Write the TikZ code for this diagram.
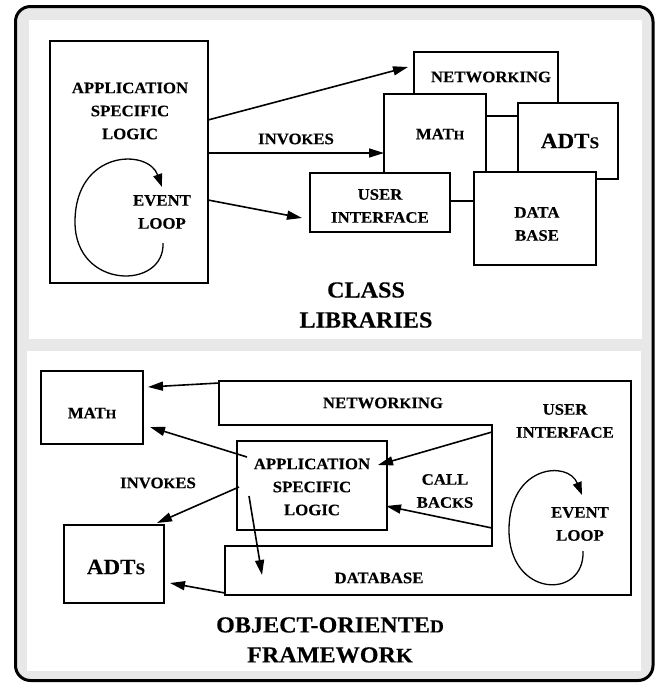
\documentclass[tikz,border=0pt]{standalone}
\usepackage{fontspec}
\setmainfont{Liberation Serif}[BoldFeatures={FakeStretch=1.05,FakeBold=0.2}]
\usetikzlibrary{arrows.meta}
\definecolor{panelgray}{HTML}{E8E8E8}
\newcommand\lil[2][0.8]{\scalebox{#1}{#2}}
\begin{document}
\begin{tikzpicture}[x=1pt,y=-1pt,
  box/.style={draw, fill=white, line width=1.3pt, inner sep=0pt, outer sep=0pt, rectangle},
  lbl/.style={font=\fontsize{16}{23}\selectfont\bfseries, align=center, inner sep=0pt},
  big/.style={font=\fontsize{23}{30}\selectfont\bfseries, align=center, inner sep=0pt},
  adt/.style={font=\fontsize{22}{26}\selectfont\bfseries, inner sep=0pt},
  arr/.style={line width=1.6pt, -{Triangle[length=15pt,width=9pt]}},
  looparr/.style={line width=1.3pt, -{Triangle[length=13pt,width=9pt]}},
]
\useasboundingbox (0,0) rectangle (659,683);
% frame and panels
\draw[line width=3pt, rounded corners=15pt, fill=panelgray] (15.5,6.5) rectangle (653,680.5);
\fill[white] (29,20) rectangle (642,339);
\fill[white] (27,351) rectangle (641,671);

% ---------------- top: class libraries ----------------
\node[box, minimum width=158pt, minimum height=242pt] (app) at (129,162) {};
\node[box, minimum width=144pt, minimum height=64pt] (net) at (486,84) {};
\node[box, minimum width=102pt, minimum height=107pt] (math) at (435,147.5) {};
\node[box, minimum width=100pt, minimum height=76pt] (adts) at (568,141) {};
\node[box, minimum width=140pt, minimum height=59pt] (ui) at (380,202.5) {};
\node[box, minimum width=122pt, minimum height=93pt] (db) at (535,218.5) {};

\node[lbl] (apptxt) at (130,111) {APPLICATION\\SPECIFIC\\LOGIC};
\node[lbl] (evtxt) at (162,212) {EVENT\\LOOP};
\node[lbl] (invtxt) at (296,139) {INVO\lil[0.9]{K}ES};
\node[lbl] (nettxt) at (491,77) {NETWOR\lil[0.9]{K}ING};
\node[lbl] (mathtxt) at (440,134) {MAT\lil{H}};
\node[adt] (adtstxt) at (570,141) {ADT\lil[0.75]{S}};
\node[lbl] (uitxt) at (380,206) {USER\\INTERFACE};
\node[lbl] (dbtxt) at (537,224) {DATA\\BASE};
\node[big] (cltxt) at (366,305) {CLASS\\LIBRARIES};

\draw[arr] ([yshift=-79pt]app.north east) -- ([xshift=-6pt,yshift=-15pt]net.north west);
\draw[arr] ([yshift=-112pt]app.north east) -- ([yshift=-59pt]math.north west);
\draw[arr] ([yshift=-159pt]app.north east) -- ([xshift=-8pt,yshift=-45pt]ui.north west);

\coordinate (l1s) at (163,243);
\coordinate (l1e) at (162,187);
\draw[looparr] (l1s) .. controls (165,290) and (75,290) .. (75,222)
  .. controls (75,150) and (148,148) .. (l1e);

% ---------------- bottom: framework ----------------
\coordinate (fwA) at (219,381);
\coordinate (fwB) at (631,381);
\coordinate (fwC) at (631,595);
\coordinate (fwD) at (225,595);
\coordinate (fwE) at (225,546);
\coordinate (fwF) at (492,546);
\coordinate (fwG) at (492,425);
\coordinate (fwH) at (219,425);
\draw[line width=1.3pt] (fwA) -- (fwB) -- (fwC) -- (fwD) -- (fwE) -- (fwF) -- (fwG) -- (fwH) -- cycle;

\node[box, minimum width=102pt, minimum height=73pt] (math2) at (92,407.5) {};
\node[box, minimum width=100pt, minimum height=78pt] (adts2) at (114,564) {};
\node[box, minimum width=150pt, minimum height=89pt] (app2) at (312,485.5) {};

\node[lbl] at (92,413) (math2txt) {MAT\lil{H}};
\node[adt] at (116,567) (adts2txt) {ADT\lil[0.75]{S}};
\node[lbl] at (312,487) (app2txt) {APPLICATION\\SPECIFIC\\LOGIC};
\node[lbl] at (383,403) (net2txt) {NETWOR\lil[0.9]{K}ING};
\node[lbl] at (565,421) (ui2txt) {USER\\INTERFACE};
\node[lbl] at (445,491) (cbtxt) {CALL\\BAC\lil[0.9]{K}S};
\node[lbl] at (580,524) (ev2txt) {EVENT\\LOOP};
\node[lbl] at (379,578) (db2txt) {DATABASE};
\node[lbl] at (158,483) (inv2txt) {INVO\lil[0.9]{K}ES};
\node[big] at (330,640) (fwtxt) {OBJECT-ORIENTE\lil{D}\\FRAMEWOR\lil[0.9]{K}};

\coordinate (netL) at (219,383);
\coordinate (dbIn) at (262,575);
\coordinate (dbL) at (225,593);
\coordinate (cbTop) at (492,432);
\coordinate (cbBot) at (492,528);

\draw[arr] (netL) -- ([xshift=5pt,yshift=-16pt]math2.north east);
\draw[arr] ([xshift=10pt,yshift=-16pt]app2.north west) -- ([xshift=7pt,yshift=-56pt]math2.north east);
\draw[arr] ([xshift=2pt,yshift=-46pt]app2.north west) -- ([xshift=-7pt,yshift=2pt]adts2.north east);
\draw[arr] ([xshift=12pt,yshift=-55pt]app2.north west) -- (dbIn);
\draw[arr] (dbL) -- ([xshift=6pt,yshift=-58pt]adts2.north east);
\draw[arr] (cbTop) -- ([xshift=-9pt,yshift=-24pt]app2.north east);
\draw[arr] (cbBot) -- ([xshift=-1pt,yshift=-65pt]app2.north east);

\coordinate (l2s) at (583,551);
\coordinate (l2e) at (582,495);
\draw[looparr] (l2s) .. controls (585,600) and (509,598) .. (509,530)
  .. controls (509,465) and (568,460) .. (l2e);
\end{tikzpicture}
\end{document}
